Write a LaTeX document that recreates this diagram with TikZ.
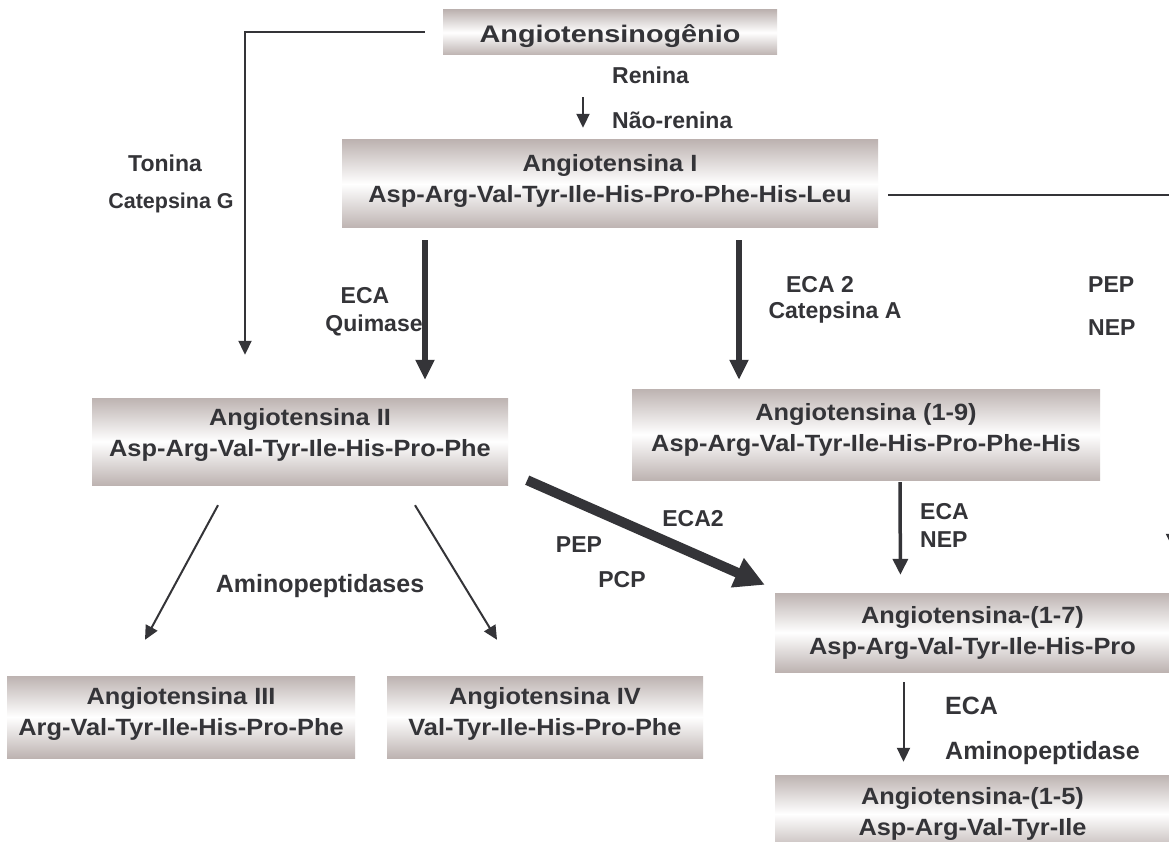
\documentclass[tikz,border=0pt]{standalone}
\usepackage{fontspec}
\setmainfont{Liberation Sans}
\newfontfamily\boxfont{Liberation Sans}[FakeStretch=1.08]
\newfontfamily\topfont{Liberation Sans}[FakeStretch=1.2]
\usetikzlibrary{arrows.meta}
\definecolor{boxgray}{RGB}{189,179,177}
\definecolor{ink}{RGB}{52,52,56}

\begin{document}
\begin{tikzpicture}[x=1pt,y=-1pt,
  box/.style={top color=boxgray, bottom color=boxgray, middle color=white, inner sep=0pt},
  boxtext/.style={text=ink, align=center, inner sep=0pt,
    font=\boxfont\bfseries\fontsize{23.5}{31}\selectfont},
  lbl/.style={text=ink, inner sep=0pt, font=\bfseries\fontsize{23}{27}\selectfont},
  biglbl/.style={lbl, font=\bfseries\fontsize{25}{29}\selectfont},
  thinarrow/.style={draw=ink, line width=2pt, -{Triangle[width=13pt,length=14pt]}},
  midarrow/.style={draw=ink, line width=3.5pt, -{Triangle[width=15pt,length=16pt]}},
  fatarrow/.style={draw=ink, line width=6.5pt, -{Triangle[width=18pt,length=20pt]}},
  hugearrow/.style={draw=ink, line width=10pt, -{Triangle[width=30pt,length=30pt]}}]
   \path[use as bounding box, fill=white] (0,0) rectangle (1169,842);

   % boxes
   \node[box, minimum width=334pt, minimum height=45pt] (ang0) at (610,32.5) {};
   \node[box, minimum width=536pt, minimum height=88pt] (ang1) at (610,184) {};
   \node[box, minimum width=416pt, minimum height=87pt] (ang2) at (300,441.5) {};
   \node[box, minimum width=468pt, minimum height=91pt] (ang19) at (866,434.5) {};
   \node[box, minimum width=395pt, minimum height=79pt] (ang17) at (972.5,632.5) {};
   \node[box, minimum width=395pt, minimum height=78pt] (ang15) at (972.5,814) {};
   \node[box, minimum width=348pt, minimum height=82pt] (ang3) at (181,717) {};
   \node[box, minimum width=316pt, minimum height=82pt] (ang4) at (545,717) {};

   % peptides
   \node[boxtext, font=\topfont\bfseries\fontsize{24}{28}\selectfont] (ang0txt)
     at ([yshift=-4pt]ang0.center) {Angiotensinog\^enio};
   \node[boxtext] (ang1txt) at ([yshift=3pt]ang1.center)
     {Angiotensina I\\Asp-Arg-Val-Tyr-Ile-His-Pro-Phe-His-Leu};
   \node[boxtext] (ang2txt) at ([yshift=7pt]ang2.center)
     {Angiotensina II\\Asp-Arg-Val-Tyr-Ile-His-Pro-Phe};
   \node[boxtext] (ang19txt) at ([yshift=5pt]ang19.center)
     {Angiotensina (1-9)\\Asp-Arg-Val-Tyr-Ile-His-Pro-Phe-His};
   \node[boxtext] (ang17txt) at (ang17.center)
     {Angiotensina-(1-7)\\Asp-Arg-Val-Tyr-Ile-His-Pro};
   \node[boxtext] (ang15txt) at (ang15.center)
     {Angiotensina-(1-5)\\Asp-Arg-Val-Tyr-Ile};
   \node[boxtext] (ang3txt) at ([yshift=3pt]ang3.center)
     {Angiotensina III\\Arg-Val-Tyr-Ile-His-Pro-Phe};
   \node[boxtext] (ang4txt) at ([yshift=3pt]ang4.center)
     {Angiotensina IV\\Val-Tyr-Ile-His-Pro-Phe};

   % enzymes
   \node[lbl, anchor=west] (renina) at (612,75) {Renina};
   \node[lbl, anchor=west] (naorenina) at (612,120) {N\~ao-renina};
   \node[lbl] (tonina) at (165,163) {Tonina};
   \node[lbl, font=\bfseries\fontsize{21.5}{25}\selectfont] (catg) at (171,203) {Catepsina G};
   \node[lbl] (eca1) at (365,296) {ECA};
   \node[lbl] (quimase) at (374,325) {Quimase};
   \node[lbl] (ecadois) at (820,285) {ECA 2};
   \node[lbl] (cata) at (835,313) {Catepsina A};
   \node[lbl, anchor=west] (pep1) at (1088,285) {PEP};
   \node[lbl, anchor=west] (nep1) at (1088,328) {NEP};
   \node[lbl] (ecadoisb) at (693,519) {ECA2};
   \node[lbl] (pep2) at (579,545) {PEP};
   \node[lbl] (pcp) at (622,580) {PCP};
   \node[biglbl] (aminos) at (320,586) {Aminopeptidases};
   \node[lbl, anchor=west] (eca2) at (920,512) {ECA};
   \node[lbl, anchor=west] (nep2) at (920,540) {NEP};
   \node[biglbl, anchor=west] (eca3) at (945,706) {ECA};
   \node[biglbl, anchor=west] (amino) at (945,753) {Aminopeptidase};

   % reactions
   \draw[thinarrow, shorten <=42pt, shorten >=12pt] ([xshift=-27pt]ang0.south) -- ([xshift=-27pt]ang1.north);
   \draw[thinarrow, shorten <=18pt, shorten >=43pt] (ang0.west) -| ([xshift=-55pt]ang2.north);
   \draw[thinarrow, shorten <=10pt, shorten >=45pt] ([yshift=-11pt]ang1.east) -| ([xshift=200pt]ang17.north);
   \draw[fatarrow, shorten <=12pt, shorten >=18pt] ([xshift=-185pt]ang1.south) -- ([xshift=125pt]ang2.north);
   \draw[fatarrow, shorten <=12pt, shorten >=9pt] ([xshift=129pt]ang1.south) -- ([xshift=-127pt]ang19.north);
   \draw[hugearrow] ([xshift=19pt,yshift=5pt]ang2.south east) -- ([xshift=-10pt,yshift=8pt]ang17.north west);
   \draw[midarrow, shorten <=2pt, shorten >=18pt] ([xshift=34pt]ang19.south) -- ([xshift=-72pt]ang17.north);
   \draw[thinarrow, shorten <=10pt, shorten >=13pt] ([xshift=-69pt]ang17.south) -- ([xshift=-69pt]ang15.north);
   \draw[thinarrow] ([xshift=-82pt,yshift=-20pt]ang2.south) -- ([xshift=-36pt,yshift=36pt]ang3.north);
   \draw[thinarrow] ([xshift=115pt,yshift=-20pt]ang2.south) -- ([xshift=-48pt,yshift=36pt]ang4.north);
\end{tikzpicture}
\end{document}
